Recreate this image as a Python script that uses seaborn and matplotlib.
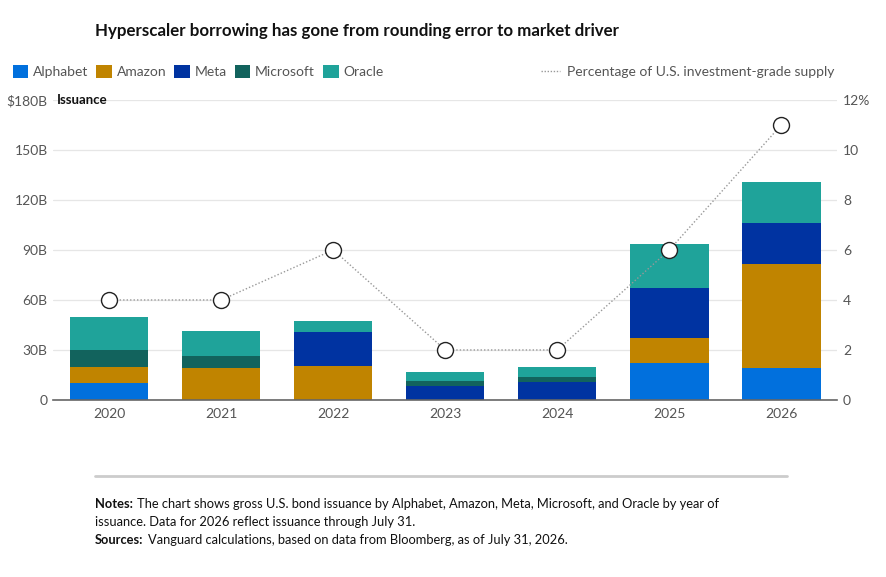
import pandas as pd
import numpy as np
import matplotlib.pyplot as plt
import seaborn as sns
from matplotlib.patches import Patch
from matplotlib.lines import Line2D


years = ['2020', '2021', '2022', '2023', '2024', '2025', '2026']
alphabet = [10, 0, 0, 0, 0, 22, 19]
amazon = [10, 19, 20.5, 0, 0, 15, 62.5]
meta = [0, 0, 20, 8.5, 10.5, 30, 24.5]
microsoft = [10, 7.5, 0, 3, 3, 0, 0]
oracle = [19.5, 15, 7, 5, 6, 26.5, 25]
pct_supply = [4, 4, 6, 2, 2, 6, 11]

companies = ['Alphabet', 'Amazon', 'Meta', 'Microsoft', 'Oracle']
colors = ['#0170DD', '#C08400', '#0033A1', '#12635D', '#1FA39A']

sns.set_theme(style='white')
plt.rcParams['font.family'] = ['Lato', 'DejaVu Sans']

df = pd.DataFrame({'Year': years, 'Alphabet': alphabet, 'Amazon': amazon,
                   'Meta': meta, 'Microsoft': microsoft, 'Oracle': oracle})
cum = df[companies].cumsum(axis=1)
cum['Year'] = df['Year']

fig = plt.figure(figsize=(8.87, 5.77), dpi=100)
ax = fig.add_axes([0.06, 0.3068, 0.884, 0.52])

# stacked bars: draw the tallest cumulative layer first
for name, col in reversed(list(zip(companies, colors))):
    sns.barplot(data=cum, x='Year', y=name, color=col, width=0.7,
                saturation=1, linewidth=0, edgecolor='none', ax=ax, zorder=2)

ax.set_xlim(-0.5, len(years) - 0.5)
ax.set_ylim(0, 180)
ax.set_yticks([0, 30, 60, 90, 120, 150, 180])
ax.set_yticklabels(['0', '30B', '60B', '90B', '120B', '150B', '$180B'])
ax.grid(axis='y', color='#E6E6E6', linewidth=0.9, zorder=0)
ax.set_axisbelow(True)
ax.set_xlabel('')
ax.set_ylabel('')
for s in ['top', 'right', 'left']:
    ax.spines[s].set_visible(False)
ax.spines['bottom'].set_color('#666666')
ax.spines['bottom'].set_linewidth(1.2)
ax.spines['bottom'].set_zorder(3)
ax.tick_params(axis='both', length=0, labelsize=10, colors='#555555', pad=6)
ax.tick_params(axis='y', pad=4)

ax2 = ax.twinx()
ax2.set_ylim(0, 12)
ax2.set_yticks([0, 2, 4, 6, 8, 10, 12])
ax2.set_yticklabels(['0', '2', '4', '6', '8', '10', '12%'])
for s in ['top', 'right', 'left', 'bottom']:
    ax2.spines[s].set_visible(False)
ax2.tick_params(axis='y', length=0, labelsize=10, colors='#555555', pad=4)
ax2.plot(np.arange(len(years)), pct_supply, linestyle=(0, (1, 1.5)),
         color='#999999', linewidth=1, marker='o', markersize=11.5,
         markerfacecolor='white', markeredgecolor='#222222',
         markeredgewidth=1, zorder=5)
ax2.grid(False)

fig.text(0.064, 0.826, 'Issuance', fontsize=9.5, fontweight='bold',
         color='#111111', va='center')

fig.text(0.107, 0.947, 'Hyperscaler borrowing has gone from rounding error to market driver',
         fontsize=12.2, fontweight='bold', color='#111111', va='center')

handles = [Patch(facecolor=c, edgecolor='none', label=n) for n, c in zip(companies, colors)]
fig.legend(handles=handles, loc='center left', bbox_to_anchor=(0.0, 0.876),
           ncol=5, frameon=False, fontsize=10, handlelength=1.1, handleheight=1.1,
           handletextpad=0.35, columnspacing=0.6, labelcolor='#555555')
line_h = [Line2D([0], [0], color='#999999', linestyle=(0, (1, 1.2)), linewidth=1,
                 label='Percentage of U.S. investment-grade supply')]
fig.legend(handles=line_h, loc='center right', bbox_to_anchor=(0.955, 0.876),
           frameon=False, fontsize=10, handlelength=1.4, handletextpad=0.5,
           labelcolor='#555555')

fig.add_artist(Line2D([0.107, 0.887], [0.175, 0.175], color='#CCCCCC', linewidth=2))


def note(y, head, body):
    t = fig.text(0.107, y, head, fontsize=9.3, fontweight='bold',
                 color='#111111', va='baseline')
    ax.annotate(body, xy=(1, 0), xycoords=t, xytext=(3, 0),
                textcoords='offset points', fontsize=9.3, color='#111111',
                va='bottom', annotation_clip=False)


note(0.120, 'Notes:', 'The chart shows gross U.S. bond issuance by Alphabet, Amazon, Meta, Microsoft, and Oracle by year of')
fig.text(0.107, 0.089, 'issuance. Data for 2026 reflect issuance through July 31.',
         fontsize=9.3, color='#111111', va='baseline')
note(0.058, 'Sources:', 'Vanguard calculations, based on data from Bloomberg, as of July 31, 2026.')

fig.savefig('out.png', dpi=100)
